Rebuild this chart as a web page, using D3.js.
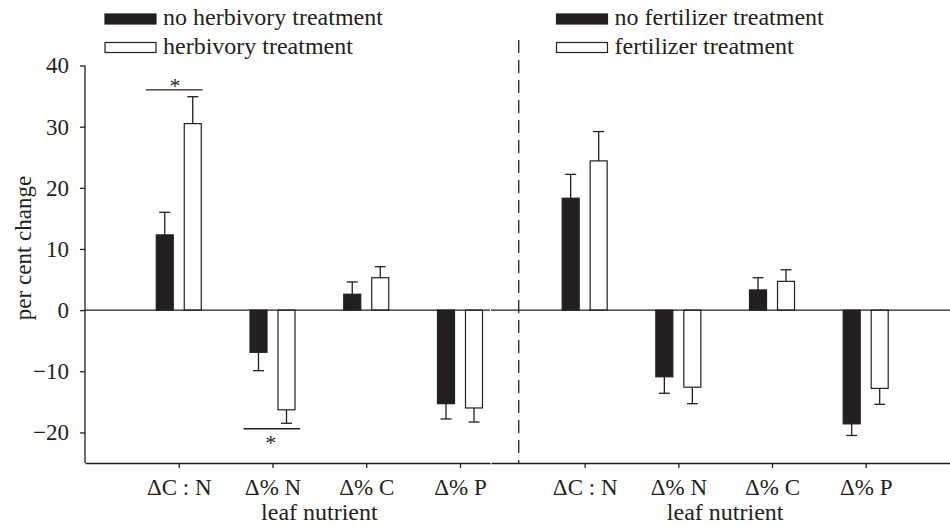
<!DOCTYPE html>
<html>
<head>
<meta charset="utf-8">
<script src="https://cdn.jsdelivr.net/npm/d3@7"></script>
<style>
  html, body { margin: 0; padding: 0; background: #fff; }
  svg { display: block; }
  text { font-family: "Liberation Serif", "Times New Roman", serif; fill: #231f20; }
</style>
</head>
<body>
<svg id="chart" width="950" height="526"></svg>
<script>
// ---- data ----
const categories = ["\u0394C : N", "\u0394% N", "\u0394% C", "\u0394% P"];
const herbivoryLegend = ["no herbivory treatment", "herbivory treatment"];
const fertilizerLegend = ["no fertilizer treatment", "fertilizer treatment"];
const noHerbivory = [12.3, -6.9, 2.6, -15.3];
const noHerbivorySE = [3.7, 3.0, 2.0, 2.5];
const herbivory = [30.5, -16.3, 5.3, -16.0];
const herbivorySE = [4.4, 2.2, 1.8, 2.3];
const noFertilizer = [18.3, -10.9, 3.3, -18.6];
const noFertilizerSE = [3.9, 2.7, 2.0, 1.9];
const fertilizer = [24.4, -12.6, 4.7, -12.8];
const fertilizerSE = [4.8, 2.7, 1.9, 2.6];
const yTicks = [-20, -10, 0, 10, 20, 30, 40];
const yDomain = [-25, 40];
// significance markers (left panel): value level, span in category units
const sigMarks = [
  { level: 36, from: 0.65, to: 1.255, star: 0.96, above: true },
  { level: -19.4, from: 1.69, to: 2.295, star: 1.98, above: false }
];

// ---- layout ----
const ink = "#231f20";
const svg = d3.select("#chart");
const y = d3.scaleLinear().domain(yDomain).range([463, 65.5]);
const xL = d3.scaleLinear().domain([0, 4.32]).range([85, 490]);
const xR = d3.scaleLinear().domain([0, 4.9]).range([491, 950]);
const barW = 17, off = 14, capW = 11;

function panel(x, a, aSE, b, bSE) {
  const g = svg.append("g");
  const series = [
    { vals: a, se: aSE, dx: -off, fill: ink },
    { vals: b, se: bSE, dx: off, fill: "#fff" }
  ];
  series.forEach(s => {
    const data = s.vals.map((v, i) => ({ v, se: s.se[i], cx: x(i + 1) + s.dx }));
    data.forEach(d => {
      const end = d.v >= 0 ? d.v + d.se : d.v - d.se;
      g.append("line").attr("x1", d.cx).attr("x2", d.cx)
        .attr("y1", y(d.v)).attr("y2", y(end))
        .attr("stroke", ink).attr("stroke-width", 1.3);
      g.append("line").attr("x1", d.cx - capW / 2).attr("x2", d.cx + capW / 2)
        .attr("y1", y(end)).attr("y2", y(end))
        .attr("stroke", ink).attr("stroke-width", 1.3);
    });
    g.selectAll(null).data(data).enter().append("rect")
      .attr("x", d => d.cx - barW / 2)
      .attr("width", barW)
      .attr("y", d => y(Math.max(0, d.v)))
      .attr("height", d => Math.abs(y(d.v) - y(0)))
      .attr("fill", s.fill)
      .attr("stroke", ink).attr("stroke-width", 1.2);
  });
  g.append("line").attr("x1", x.range()[0]).attr("x2", x.range()[1])
    .attr("y1", y(0)).attr("y2", y(0)).attr("stroke", ink).attr("stroke-width", 1.2);
  const ax = g.append("g").attr("transform", `translate(0,${y(yDomain[0])})`)
    .call(d3.axisBottom(x).tickValues([1, 2, 3, 4]).tickFormat(d => categories[d - 1])
      .tickSize(5).tickSizeOuter(0).tickPadding(11));
  ax.select(".domain").attr("stroke", ink).attr("stroke-width", 1.3);
  ax.selectAll(".tick line").attr("stroke", ink).attr("stroke-width", 1.3);
  ax.selectAll(".tick text").attr("font-size", 23).attr("fill", ink)
    .style("font-family", '"Liberation Serif", serif');
  g.append("text").attr("x", (x(2) + x(3)) / 2).attr("y", 520)
    .attr("text-anchor", "middle").attr("font-size", 24).text("leaf nutrient");
  return g;
}

const gl = panel(xL, noHerbivory, noHerbivorySE, herbivory, herbivorySE);
panel(xR, noFertilizer, noFertilizerSE, fertilizer, fertilizerSE);

const ay = svg.append("g").attr("transform", `translate(${xL.range()[0]},0)`)
  .call(d3.axisLeft(y).tickValues(yTicks).tickSize(5).tickSizeOuter(0).tickPadding(11));
ay.select(".domain").attr("stroke", ink).attr("stroke-width", 1.3)
  .attr("d", `M0,${y(40)}V${y(yDomain[0])}`);
ay.selectAll(".tick line").attr("stroke", ink).attr("stroke-width", 1.3);
ay.selectAll(".tick text").attr("font-size", 23).attr("fill", ink)
  .style("font-family", '"Liberation Serif", serif');

svg.append("text").attr("transform", "translate(31,248) rotate(-90)")
  .attr("text-anchor", "middle").attr("font-size", 23).text("per cent change");

sigMarks.forEach(m => {
  gl.append("line").attr("x1", xL(m.from)).attr("x2", xL(m.to))
    .attr("y1", y(m.level)).attr("y2", y(m.level))
    .attr("stroke", ink).attr("stroke-width", 1.3);
  gl.append("text").attr("x", xL(m.star))
    .attr("y", m.above ? y(m.level) + 3 : y(m.level) + 21)
    .attr("text-anchor", "middle").attr("font-size", 22).text("*");
});

svg.append("line").attr("x1", xR(0.296)).attr("x2", xR(0.296))
  .attr("y1", 40).attr("y2", y(yDomain[0]))
  .attr("stroke", ink).attr("stroke-width", 1.3).attr("stroke-dasharray", "13,7");

function legend(x0, labels) {
  const rows = [{ fill: ink, y0: 14, base: 25 }, { fill: "#fff", y0: 42.5, base: 53.5 }];
  rows.forEach((r, i) => {
    svg.append("rect").attr("x", x0).attr("y", r.y0).attr("width", 51).attr("height", 10)
      .attr("fill", r.fill).attr("stroke", ink).attr("stroke-width", 1.2);
    svg.append("text").attr("x", x0 + 58).attr("y", r.base).attr("font-size", 24).text(labels[i]);
  });
}
legend(105, herbivoryLegend);
legend(556.5, fertilizerLegend);
</script>
</body>
</html>
